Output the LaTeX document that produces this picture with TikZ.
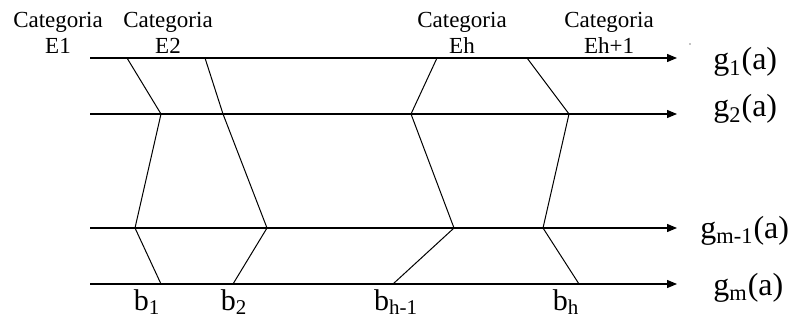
\documentclass[tikz,border=0pt]{standalone}
\usepackage{fontspec}
\setmainfont{Liberation Serif}
\usetikzlibrary{arrows.meta}

\begin{document}
\begin{tikzpicture}[x=0.5pt, y=-0.5pt,
  level/.style={-{Triangle[length=5pt,width=4pt]}, line width=0.6pt},
  border/.style={line width=0.5pt},
  cat/.style={font=\fontsize{11.5}{13}\selectfont, align=center, inner sep=0pt, anchor=base},
  glab/.style={font=\fontsize{16}{18}\selectfont, anchor=base west, inner sep=0pt},
  blab/.style={font=\fontsize{15}{17}\selectfont, anchor=base, inner sep=0pt},
]
\useasboundingbox (0,0) rectangle (795,320);

% ================= the levels g_1 ... g_m
\foreach \n/\y in {1/58,2/114,3/228,4/284} {
  \coordinate (s\n) at (90,\y);
  \coordinate (e\n) at (677,\y);
  \draw[level] (s\n) -- (e\n);
}
\node[glab] (g1) at (713,70)  {g\textsubscript{1}(a)};
\node[glab] (g2) at (713,117) {g\textsubscript{2}(a)};
\node[glab] (g3) at (700,238) {g\textsubscript{m-1}(a)};
\node[glab] (g4) at (713,295) {g\textsubscript{m}(a)};

% ================= borders between the categories
\foreach \b/\xa/\xb/\xc/\xd in {1/127/161/135/161, 2/205/223/267/233,
                                3/437/411/454/393, 4/527/569/543/579} {
  \coordinate (p\b1) at (\xa,58);
  \coordinate (p\b2) at (\xb,114);
  \coordinate (p\b3) at (\xc,228);
  \coordinate (p\b4) at (\xd,284);
  \draw[border] (p\b1) -- (p\b2) -- (p\b3) -- (p\b4);
}
\node[blab] (b1) at (147,310) {b\textsubscript{1}};
\node[blab] (b2) at (234,310) {b\textsubscript{2}};
\node[blab] (b3) at (396,310) {b\textsubscript{h-1}};
\node[blab] (b4) at (566,310) {b\textsubscript{h}};

% ================= category names (base = second line)
\node[cat] (c1) at (58,54)  {Categoria\\E1};
\node[cat] (c2) at (168,54) {Categoria\\E2};
\node[cat] (c3) at (462,54) {Categoria\\Eh};
\node[cat] (c4) at (609,54) {Categoria\\Eh+1};
\fill (690,44) circle (0.6);
\end{tikzpicture}
\end{document}
